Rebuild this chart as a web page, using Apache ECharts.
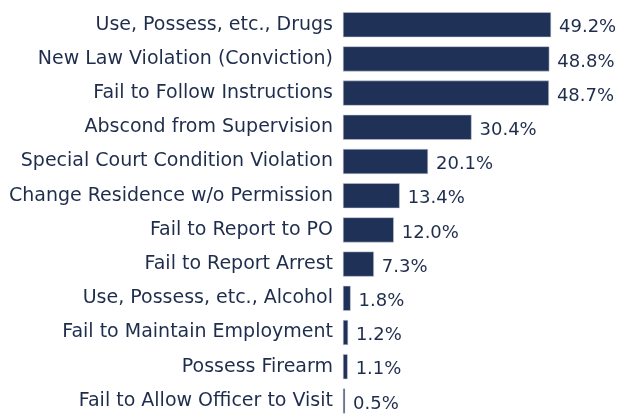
<!DOCTYPE html>
<html>
<head>
<meta charset="utf-8">
<script src="https://cdn.jsdelivr.net/npm/echarts@6/dist/echarts.min.js"></script>
<style>html,body{margin:0;padding:0;background:#fff}#c{width:629px;height:418px}</style>
</head>
<body>
<div id="c"></div>
<script>
var categories = [
  "Use, Possess, etc., Drugs",
  "New Law Violation (Conviction)",
  "Fail to Follow Instructions",
  "Abscond from Supervision",
  "Special Court Condition Violation",
  "Change Residence w/o Permission",
  "Fail to Report to PO",
  "Fail to Report Arrest",
  "Use, Possess, etc., Alcohol",
  "Fail to Maintain Employment",
  "Possess Firearm",
  "Fail to Allow Officer to Visit"
];
var values = [49.2, 48.8, 48.7, 30.4, 20.1, 13.4, 12.0, 7.3, 1.8, 1.2, 1.1, 0.5];

var chart = echarts.init(document.getElementById('c'), null, {renderer: 'canvas'});
var font = 'DejaVu Sans';
chart.setOption({
  animation: false,
  grid: {left: 343, top: 7.6, width: 253.7, height: 417.6},
  xAxis: {type: 'value', min: 0, max: 60, show: false},
  yAxis: {
    type: 'category', data: categories, inverse: true,
    axisLine: {show: false}, axisTick: {show: false},
    axisLabel: {color: '#1f2d4d', fontFamily: font, fontSize: 19, margin: 10}
  },
  series: [{
    type: 'bar', data: values, barCategoryGap: '27%',
    itemStyle: {color: '#203157', borderColor: '#c8cdd8', borderWidth: 0.5},
    label: {
      show: true, position: 'right', distance: 8, offset: [0, 3],
      color: '#1f2d4d', fontFamily: font, fontSize: 18,
      formatter: function (p) { return p.value.toFixed(1) + '%'; }
    }
  }]
});
</script>
</body>
</html>
